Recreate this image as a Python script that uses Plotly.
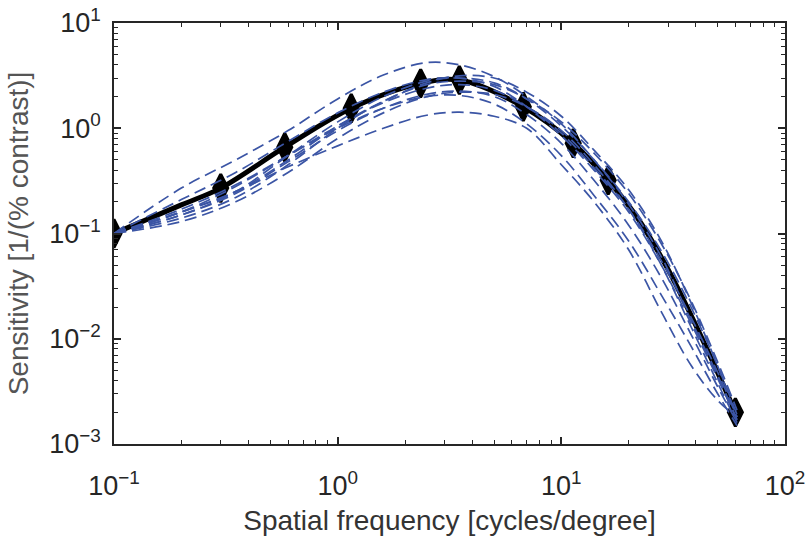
import plotly.graph_objects as go

# Measured points (black diamonds)
meas_x = [0.1, 0.3, 0.58, 1.15, 2.35, 3.5, 6.76, 11.3, 16.2, 60]
meas_y = [0.1, 0.27, 0.66, 1.55, 2.67, 2.87, 1.6, 0.72, 0.32, 0.002]

# Mean fitted curve (black line)
fit_x = [0.1, 0.2, 0.3, 0.58, 1.15, 2.35, 3.5, 6.76, 11.3, 16.2, 21.7, 29.6, 37.6, 47.8, 60]
fit_y = [0.1, 0.187, 0.27, 0.66, 1.55, 2.67, 2.87, 1.6, 0.72, 0.32, 0.145, 0.048, 0.0175, 0.0059, 0.002]

# Individual fitted curves (blue dashed), sampled at common frequencies
ind_x = [0.1, 0.2, 0.35, 0.6, 1.0, 1.6, 2.5, 3.5, 5, 7, 10, 14, 20, 28, 38, 50, 61]
ind_curves = [
    [0.1, 0.27, 0.5, 0.95, 1.9, 3.2, 4.2, 4.0, 3.1, 2.0, 1.1, 0.5, 0.19, 0.06, 0.015, 0.0045, 0.0017],
    [0.1, 0.16, 0.25, 0.5, 1.05, 1.8, 2.7, 3.15, 3.0, 2.2, 1.3, 0.62, 0.26, 0.085, 0.022, 0.0055, 0.0018],
    [0.1, 0.21, 0.38, 0.75, 1.4, 2.2, 2.9, 3.0, 2.5, 1.6, 0.85, 0.4, 0.16, 0.05, 0.014, 0.0042, 0.0017],
    [0.1, 0.15, 0.25, 0.55, 1.15, 2.0, 2.8, 3.0, 2.7, 1.9, 1.05, 0.5, 0.2, 0.068, 0.02, 0.0055, 0.0019],
    [0.1, 0.14, 0.22, 0.45, 1.0, 1.8, 2.6, 2.8, 2.6, 1.9, 1.15, 0.58, 0.24, 0.08, 0.023, 0.006, 0.0021],
    [0.1, 0.16, 0.28, 0.55, 1.05, 1.75, 2.4, 2.6, 2.3, 1.6, 0.9, 0.42, 0.17, 0.055, 0.016, 0.0048, 0.0018],
    [0.1, 0.15, 0.24, 0.48, 0.95, 1.55, 2.1, 2.25, 2.0, 1.35, 0.72, 0.32, 0.12, 0.038, 0.011, 0.0035, 0.0016],
    [0.1, 0.17, 0.29, 0.55, 1.0, 1.55, 2.0, 2.05, 1.7, 1.1, 0.55, 0.23, 0.085, 0.026, 0.0085, 0.003, 0.0015],
    [0.1, 0.13, 0.2, 0.38, 0.8, 1.4, 2.0, 2.2, 2.1, 1.6, 0.95, 0.45, 0.17, 0.05, 0.013, 0.0038, 0.0016],
    [0.1, 0.16, 0.25, 0.43, 0.68, 1.0, 1.33, 1.42, 1.3, 1.0, 0.45, 0.2, 0.07, 0.018, 0.0056, 0.0026, 0.0018],
]

x_tickvals = [0.1, 1, 10, 100]
x_ticktext = ["10<sup>\u22121</sup>", "10<sup>0</sup>", "10<sup>1</sup>", "10<sup>2</sup>"]
y_tickvals = [0.001, 0.01, 0.1, 1, 10]
y_ticktext = ["10<sup>\u22123</sup>", "10<sup>\u22122</sup>", "10<sup>\u22121</sup>",
              "10<sup>0</sup>", "10<sup>1</sup>"]

x_minor = [m * 10.0 ** e for e in range(-1, 2) for m in range(2, 10)]
y_minor = [m * 10.0 ** e for e in range(-3, 1) for m in range(2, 10)]

BLUE = "#3b55a5"
AX = "#262626"
FONT = "Liberation Sans, Arial, sans-serif"

fig = go.Figure()

fig.add_trace(go.Scatter(
    x=fit_x, y=fit_y, mode="lines",
    line=dict(color="black", width=5, shape="spline", smoothing=1.0),
    showlegend=False, hoverinfo="skip"))

fig.add_trace(go.Scatter(
    x=meas_x, y=meas_y, mode="markers",
    marker=dict(symbol="diamond-tall", size=20, color="black",
                line=dict(color="black", width=3)),
    showlegend=False))

for c in ind_curves:
    fig.add_trace(go.Scatter(
        x=ind_x, y=c, mode="lines",
        line=dict(color=BLUE, width=1.7, dash="12px,6px", shape="spline", smoothing=1.0),
        showlegend=False, hoverinfo="skip"))

axis_common = dict(
    type="log", showgrid=False, zeroline=False, automargin=False,
    showline=True, linecolor=AX, linewidth=1.5, mirror="ticks",
    ticks="inside", ticklen=7, tickwidth=1.5, tickcolor=AX,
    tickfont=dict(family=FONT, size=27, color=AX),
    tickmode="array",
)

fig.update_xaxes(
    **axis_common,
    range=[-1, 2],
    tickvals=x_tickvals, ticktext=x_ticktext,
    ticklabelstandoff=17,
    minor=dict(tickmode="array", tickvals=x_minor, ticks="inside", ticklen=4,
               tickwidth=1.2, tickcolor=AX, showgrid=False),
    title=dict(text="Spatial frequency [cycles/degree]",
               font=dict(family=FONT, size=28, color="#333333"),
               standoff=10),
)
fig.update_yaxes(
    **axis_common,
    range=[-3, 1],
    tickvals=y_tickvals, ticktext=y_ticktext,
    ticklabelstandoff=6,
    minor=dict(tickmode="array", tickvals=y_minor, ticks="inside", ticklen=4,
               tickwidth=1.2, tickcolor=AX, showgrid=False),
    title=dict(text="Sensitivity [1/(% contrast)]",
               font=dict(family=FONT, size=28, color="#555555"),
               standoff=12),
)

fig.update_layout(
    width=809, height=540,
    margin=dict(l=114, r=24, t=23, b=96),
    paper_bgcolor="white", plot_bgcolor="white",
)

fig.write_html("out.html", config={"displayModeBar": False},
               post_script="document.body.style.margin='0';")
